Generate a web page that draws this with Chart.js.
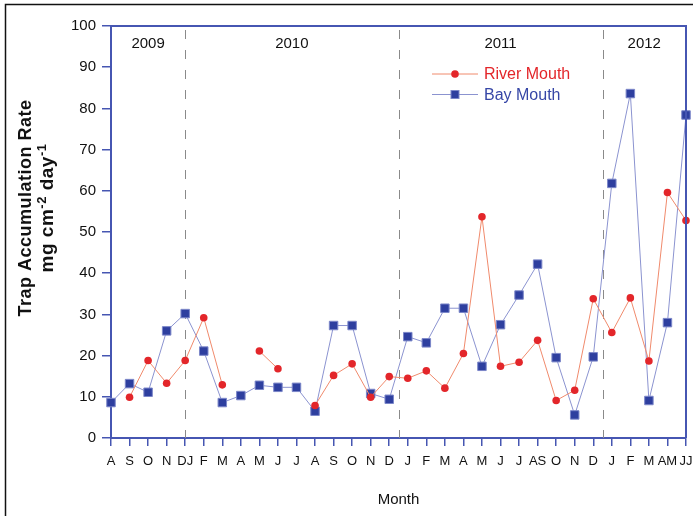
<!DOCTYPE html>
<html>
<head>
<meta charset="utf-8">
<script src="https://cdn.jsdelivr.net/npm/chart.js@4.4.1/dist/chart.umd.min.js"></script>
<style>
  body { margin: 0; background: #fff; }
  canvas { display: block; }
</style>
</head>
<body>
<canvas id="trapChart" width="693" height="516"></canvas>
<script>
// month labels along x (merged labels where two samples share a tick)
var months = [
  'A', 'S', 'O', 'N', 'DJ', 'F', 'M', 'A', 'M', 'J', 'J', 'A', 'S', 'O', 'N', 'D',
  'J', 'F', 'M', 'A', 'M', 'J', 'J', 'AS', 'O', 'N', 'D', 'J', 'F', 'M', 'AM', 'JJ'
];
var riverMouth = [
  null, 9.9, 18.8, 13.3, 18.8, 29.2, 12.9, null, 21.1, 16.8, null, 7.9, 15.2, 18.0, 9.9, 14.9,
  14.5, 16.3, 12.1, 20.5, 53.7, 17.4, 18.4, 23.7, 9.1, 11.6, 33.8, 25.6, 34.0, 18.7, 59.6, 52.8
];
var bayMouth = [
  8.6, 13.2, 11.1, 26.0, 30.2, 21.1, 8.6, 10.3, 12.8, 12.3, 12.3, 6.5, 27.3, 27.3, 10.8, 9.4,
  24.6, 23.1, 31.5, 31.5, 17.4, 27.5, 34.7, 42.2, 19.5, 5.6, 19.7, 61.8, 83.6, 9.1, 28.0, 78.4
];
var yearNames = ['2009', '2010', '2011', '2012'];
var yearBreaks = [4, 15.5, 26.5]; // positions on the month axis (index units)

var axisColor = '#4656b2';
var fontFam = 'Arial, "Liberation Sans", sans-serif';

// frame, year separators, year labels, legend and axis titles
var decorations = {
  id: 'decorations',
  beforeDatasetsDraw: function(chart) {
    var ctx = chart.ctx, area = chart.chartArea, x = chart.scales.x;
    ctx.save();
    ctx.strokeStyle = '#8a8a8a';
    ctx.lineWidth = 1;
    ctx.setLineDash([9, 11]);
    yearBreaks.forEach(function(b) {
      var px = Math.round(x.getPixelForValue(b)) + 0.5;
      ctx.beginPath();
      ctx.moveTo(px, area.top + 4);
      ctx.lineTo(px, area.bottom);
      ctx.stroke();
    });
    ctx.setLineDash([]);
    var edges = [0].concat(yearBreaks, [months.length - 1]);
    ctx.fillStyle = '#111';
    ctx.font = '15px ' + fontFam;
    ctx.textAlign = 'center';
    ctx.textBaseline = 'middle';
    yearNames.forEach(function(name, i) {
      var cx = (x.getPixelForValue(edges[i]) + x.getPixelForValue(edges[i + 1])) / 2;
      ctx.fillText(name, cx, area.top + 18);
    });
    ctx.restore();
  },
  afterDraw: function(chart) {
    var ctx = chart.ctx, area = chart.chartArea;
    ctx.save();
    // outer black frame (cut off at right and bottom)
    ctx.strokeStyle = '#111';
    ctx.lineWidth = 1.5;
    ctx.beginPath();
    ctx.moveTo(5.5, chart.height + 2);
    ctx.lineTo(5.5, 4.5);
    ctx.lineTo(chart.width + 2, 4.5);
    ctx.stroke();
    // top and right edges of plot
    ctx.strokeStyle = axisColor;
    ctx.lineWidth = 2;
    ctx.beginPath();
    ctx.moveTo(area.left, area.top);
    ctx.lineTo(area.right, area.top);
    ctx.lineTo(area.right, area.bottom);
    ctx.stroke();

    // legend
    var lx = 432, ly = 74;
    chart.data.datasets.forEach(function(ds, i) {
      var y = ly + i * 20.5;
      ctx.strokeStyle = ds.borderColor;
      ctx.lineWidth = 1;
      ctx.beginPath();
      ctx.moveTo(lx, y);
      ctx.lineTo(lx + 46, y);
      ctx.stroke();
      ctx.fillStyle = ds.pointBackgroundColor;
      ctx.strokeStyle = ds.pointBorderColor;
      if (ds.pointStyle === 'rect') {
        ctx.fillRect(lx + 19, y - 4, 8, 8);
        ctx.strokeRect(lx + 19, y - 4, 8, 8);
      } else {
        ctx.beginPath();
        ctx.arc(lx + 23, y, 3.8, 0, Math.PI * 2);
        ctx.fill();
      }
      ctx.fillStyle = ds.legendColor;
      ctx.font = '16px ' + fontFam;
      ctx.textAlign = 'left';
      ctx.textBaseline = 'middle';
      ctx.fillText(ds.label, lx + 52, y + 1);
    });

    // x title
    ctx.fillStyle = '#111';
    ctx.font = '15px ' + fontFam;
    ctx.textAlign = 'center';
    ctx.textBaseline = 'middle';
    ctx.fillText('Month', (area.left + area.right) / 2, 500);

    // y title, two lines with superscripts
    ctx.translate(0, 208);
    ctx.rotate(-Math.PI / 2);
    ctx.font = 'bold 18px ' + fontFam;
    ctx.letterSpacing = '0.5px';
    ctx.fillText('Trap Accumulation Rate', 0, 26);
    var parts = [['mg cm', false], ['-2', true], [' day', false], ['-1', true]];
    var total = 0;
    parts.forEach(function(p) {
      ctx.font = 'bold ' + (p[1] ? 13 : 19) + 'px ' + fontFam;
      total += ctx.measureText(p[0]).width;
    });
    var px = -total / 2;
    ctx.textAlign = 'left';
    parts.forEach(function(p) {
      ctx.font = 'bold ' + (p[1] ? 13 : 19) + 'px ' + fontFam;
      ctx.fillText(p[0], px, p[1] ? 42 : 48);
      px += ctx.measureText(p[0]).width;
    });
    ctx.restore();
  }
};

var ctx = document.getElementById('trapChart').getContext('2d');
var trapChart = new Chart(ctx, {
  type: 'line',
  data: {
    labels: months,
    datasets: [{
      label: 'River Mouth',
      data: riverMouth,
      borderColor: '#f08a6c',
      borderWidth: 1,
      pointStyle: 'circle',
      pointRadius: 3.8,
      pointBackgroundColor: '#e3262a',
      pointBorderColor: '#e3262a',
      pointBorderWidth: 0,
      legendColor: '#e3262a',
      spanGaps: false
    }, {
      label: 'Bay Mouth',
      data: bayMouth,
      borderColor: '#8b93d0',
      borderWidth: 1,
      pointStyle: 'rect',
      pointRadius: 6,
      pointBackgroundColor: '#2e3f9f',
      pointBorderColor: '#7c87c9',
      pointBorderWidth: 1,
      legendColor: '#3646a6'
    }]
  },
  options: {
    responsive: false,
    animation: false,
    layout: { padding: { top: 26, right: 7, left: 0, bottom: 0 } },
    plugins: {
      legend: { display: false },
      tooltip: { enabled: false }
    },
    scales: {
      x: {
        type: 'category',
        offset: false,
        afterFit: function(scale) {
          scale.height = 78;
          scale.paddingLeft = 0;
          scale.paddingRight = 6;
        },
        grid: {
          drawOnChartArea: false,
          drawTicks: true,
          tickLength: 8,
          tickColor: axisColor,
          lineWidth: 1.5
        },
        border: { color: axisColor, width: 2 },
        ticks: {
          autoSkip: false,
          maxRotation: 0,
          padding: 8,
          color: '#111',
          font: { family: fontFam, size: 13 }
        }
      },
      y: {
        min: 0,
        max: 100,
        afterFit: function(scale) { scale.width = 111; },
        grid: {
          drawOnChartArea: false,
          drawTicks: true,
          tickLength: 9,
          tickColor: axisColor,
          lineWidth: 1.5
        },
        border: { color: axisColor, width: 2 },
        ticks: {
          stepSize: 10,
          padding: 6,
          color: '#111',
          font: { family: fontFam, size: 15 }
        }
      }
    }
  },
  plugins: [decorations]
});
</script>
</body>
</html>
